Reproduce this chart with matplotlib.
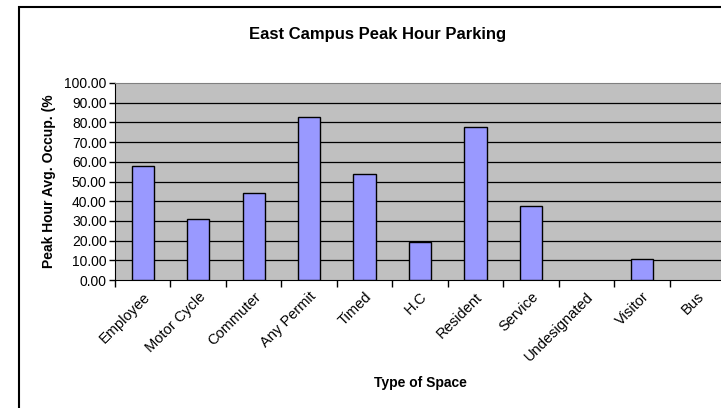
import numpy as np
import matplotlib
matplotlib.use("Agg")
import matplotlib.pyplot as plt
from matplotlib.patches import Rectangle

plt.rcParams['font.family'] = ['Liberation Sans', 'DejaVu Sans']

spaces = ['Employee', 'Motor Cycle', 'Commuter', 'Any Permit', 'Timed', 'H.C',
          'Resident', 'Service', 'Undesignated', 'Visitor', 'Bus']
occupancy = [58.0, 31.1, 44.3, 82.6, 53.8, 19.1, 77.8, 37.7, 0.0, 10.8, 0.0]
yticks = [0, 10, 20, 30, 40, 50, 60, 70, 80, 90, 100]

W, H = 721, 408
fig = plt.figure(figsize=(W / 100, H / 100), dpi=100)

# outer chart border (cut off at right and bottom like the original)
fig.patches.append(Rectangle((19 / W, -0.2), 1.5, (H - 7) / H + 0.2,
                             transform=fig.transFigure, fill=False,
                             edgecolor='black', linewidth=1.5))

ax = fig.add_axes([115 / W, 1 - 280 / H, 610 / W, 197 / H])
ax.set_facecolor('#C0C0C0')

x = np.arange(len(spaces))
ax.bar(x, occupancy, width=0.4, color='#9999FF', edgecolor='black',
       linewidth=[1.0 if v > 0 else 0 for v in occupancy], zorder=3)

ax.set_xlim(-0.5, len(spaces) - 0.5)
ax.set_ylim(0, 100)
ax.set_yticks(yticks)
ax.set_yticklabels([f'{v:.2f}' for v in yticks], fontsize=10)
for v in yticks[1:-1]:
    ax.axhline(v, color='black', linewidth=0.9, zorder=1)

ax.set_xticks(x)
ax.set_xticklabels(spaces, rotation=45, ha='right', rotation_mode='anchor',
                   fontsize=10.5)
ax.tick_params(axis='x', which='major', length=0, pad=7)
ax.set_xticks(np.arange(len(spaces) + 1) - 0.5, minor=True)
ax.tick_params(axis='x', which='minor', length=5, direction='out', width=1)
ax.tick_params(axis='y', length=4, direction='out', width=1, pad=2)

for side in ['top', 'right']:
    ax.spines[side].set_color('#808080')
ax.spines['left'].set_color('black')
ax.spines['bottom'].set_color('black')

ax.set_xlabel('Type of Space', fontsize=10, fontweight='bold', labelpad=9)
ax.set_ylabel('Peak Hour Avg. Occup. (%', fontsize=10, fontweight='bold',
              labelpad=6)
fig.text(378 / W, 1 - 34 / H, 'East Campus Peak Hour Parking', ha='center',
         va='center', fontsize=12, fontweight='bold')

fig.savefig('out.png', dpi=100)
